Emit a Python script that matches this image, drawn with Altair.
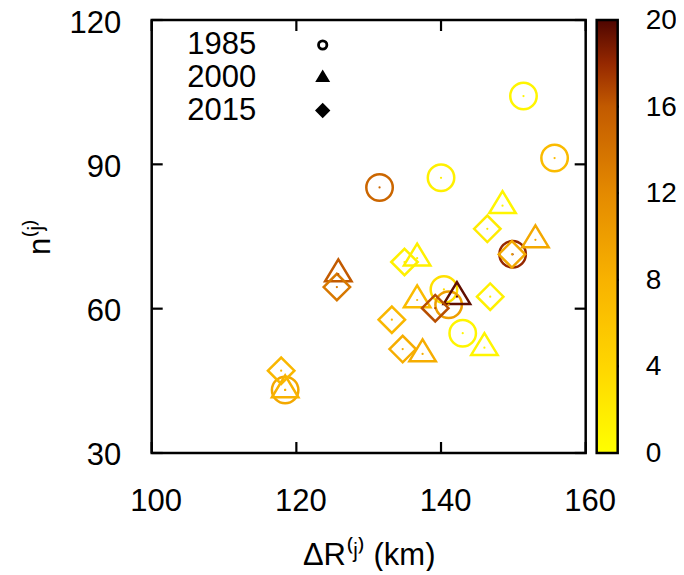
import altair as alt
import pandas as pd

# ---------------- data ----------------
years = ["1985", "2000", "2015"]

dr_1985 = [151.4, 155.7, 140.0, 131.5, 149.9, 140.4, 141.05, 143.0, 118.45]
n_1985 = [104.2, 91.3, 87.2, 85.2, 71.3, 64.0, 60.8, 54.9, 43.1]
c_1985 = [1.0, 7.0, 1.5, 15.0, 18.0, 3.0, 10.0, 1.0, 9.0]

dr_2000 = [148.5, 153.05, 136.7, 125.8, 136.7, 142.2, 137.45, 146.0, 118.45]
n_2000 = [81.4, 74.3, 70.5, 67.2, 61.8, 62.5, 50.6, 51.9, 43.1]
c_2000 = [1.0, 9.0, 1.5, 16.0, 7.0, 19.5, 8.5, 1.0, 8.0]

dr_2015 = [146.4, 149.8, 134.95, 125.6, 146.8, 139.2, 133.2, 134.7, 117.9]
n_2015 = [76.6, 71.3, 69.7, 64.5, 62.5, 60.1, 57.7, 51.6, 47.1]
c_2015 = [2.0, 9.0, 1.5, 13.5, 1.5, 16.5, 7.5, 8.5, 7.5]

x_ticks = [100, 120, 140, 160]
y_ticks = [30, 60, 90, 120]
cb_labels = [0, 4, 8, 12, 16, 20]
cb_inner_ticks = [4, 8, 12, 16]

pal_domain = [0, 4, 8, 12, 16, 18, 20]
pal_colors = ["#FFFF00", "#FFD600", "#F8B200", "#E48A00", "#C25A00", "#952800", "#4E0500"]

# ---------------- tables ----------------
rows = []
for yr, xs_, ns_, cs_ in [("1985", dr_1985, n_1985, c_1985),
                          ("2000", dr_2000, n_2000, c_2000),
                          ("2015", dr_2015, n_2015, c_2015)]:
    for a, b, c in zip(xs_, ns_, cs_):
        rows.append({"year": yr, "dr": a, "n": b, "c": c})
df = pd.DataFrame(rows)
df["order"] = range(len(df))

df_xt = pd.DataFrame({"v": x_ticks})
df_yt = pd.DataFrame({"v": y_ticks})
df_cb = pd.DataFrame({"v": cb_inner_ticks})
df_cbl = pd.DataFrame({"v": cb_labels})
df_leg = pd.DataFrame({"year": years})

W, H = 434, 433
FONT = "Liberation Sans"
FS = 31

tri_path = "M0,-1.1L1,0.55L-1,0.55Z"
shape_scale = alt.Scale(domain=years, range=["circle", tri_path, "diamond"])

xs = alt.Scale(domain=[100, 160], nice=False, zero=False)
ys = alt.Scale(domain=[30, 120], nice=False, zero=False)


def cscale():
    return alt.Scale(domain=pal_domain, range=pal_colors, interpolate="rgb")


def cbscale():
    return alt.Scale(domain=[0, 20], nice=False, zero=False)


x_axis = alt.Axis(values=x_ticks, ticks=False, tickSize=0, domain=False, grid=False,
                  labelFontSize=FS, labelFont=FONT, labelColor="black",
                  labelPadding=34, labelOffset=4, labelFlush=False, labelOverlap=False,
                  title="ΔR⁽ʲ⁾ (km)", titleFont=FONT, titleFontSize=FS,
                  titleFontWeight="normal", titleColor="black",
                  titleBaseline="alphabetic", titleX=W / 2, titleY=111.7)
y_axis = alt.Axis(values=y_ticks, ticks=False, tickSize=0, domain=False, grid=False,
                  labelFontSize=FS, labelFont=FONT, labelColor="black",
                  labelPadding=31, labelOffset=3, labelFlush=False, labelOverlap=False,
                  title="n⁽ʲ⁾", titleFont=FONT, titleFontSize=FS,
                  titleFontWeight="normal", titleColor="black",
                  titleAngle=270, titleBaseline="alphabetic", titleAlign="center",
                  titleX=-101.7, titleY=H / 2)

color_legend = alt.Legend(type="gradient", orient="none", legendX=445, legendY=0,
                          direction="vertical",
                          gradientLength=H, gradientThickness=21,
                          gradientStrokeColor="black", gradientStrokeWidth=2.5,
                          values=cb_labels, labelFontSize=10, labelOpacity=0,
                          labelOverlap=False, padding=0, title=None)

pts = alt.Chart(df).mark_point(filled=False, strokeWidth=2.5, size=700, opacity=1).encode(
    x=alt.X("dr:Q", scale=xs, axis=x_axis),
    y=alt.Y("n:Q", scale=ys, axis=y_axis),
    shape=alt.Shape("year:N", scale=shape_scale, legend=None),
    stroke=alt.Stroke("c:Q", scale=cscale(), legend=color_legend),
    order="order:Q",
)

dots = alt.Chart(df).mark_circle(size=5, opacity=1).encode(
    x=alt.X("dr:Q", scale=xs, axis=x_axis),
    y=alt.Y("n:Q", scale=ys, axis=None),
    fill=alt.Fill("c:Q", scale=cscale(), legend=None),
)

tick_style = dict(color="black", strokeWidth=2.2)
xt_bot = alt.Chart(df_xt).mark_rule(**tick_style).encode(
    x=alt.X("v:Q", scale=xs, axis=x_axis), y=alt.value(H), y2=alt.value(H - 11))
xt_top = alt.Chart(df_xt).mark_rule(**tick_style).encode(
    x=alt.X("v:Q", scale=xs, axis=x_axis), y=alt.value(0), y2=alt.value(11))
yt_left = alt.Chart(df_yt).mark_rule(**tick_style).encode(
    y=alt.Y("v:Q", scale=ys, axis=None), x=alt.value(0), x2=alt.value(11))
yt_right = alt.Chart(df_yt).mark_rule(**tick_style).encode(
    y=alt.Y("v:Q", scale=ys, axis=None), x=alt.value(W), x2=alt.value(W - 11))

cb_ticks = alt.Chart(df_cb).mark_rule(color="black", strokeWidth=2.2, strokeDash=[8, 6]).encode(
    y=alt.Y("v:Q", scale=cbscale(), axis=None),
    x=alt.value(445.3), x2=alt.value(467.3))

cb_text = alt.Chart(df_cbl).mark_text(align="left", baseline="middle", font=FONT,
                                      fontSize=28, color="black", dy=1).encode(
    y=alt.Y("v:Q", scale=cbscale(), axis=None),
    x=alt.value(494),
    text=alt.Text("v:Q", format="d"))

leg_y = alt.Y("year:N", scale=alt.Scale(domain=years, range=[25, 90.5], padding=0), axis=None)
leg_text = alt.Chart(df_leg).mark_text(align="left", baseline="middle", font=FONT,
                                       fontSize=FS, color="black").encode(
    x=alt.value(35.5), y=leg_y, text="year:N")
leg_sym = alt.Chart(df_leg).mark_point(filled=True, opacity=1, stroke="black",
                                       strokeWidth=2.8).encode(
    x=alt.value(171), y=leg_y,
    shape=alt.Shape("year:N", scale=shape_scale, legend=None),
    fill=alt.Fill("year:N", scale=alt.Scale(domain=years, range=["white", "black", "black"]),
                  legend=None),
    size=alt.Size("year:O", scale=alt.Scale(domain=years, range=[70, 130, 95]), legend=None),
)

chart = alt.layer(pts, dots, xt_bot, xt_top, yt_left, yt_right, cb_ticks, cb_text,
                  leg_text, leg_sym).resolve_scale(
    y="independent", size="independent", fill="independent"
).properties(
    width=W, height=H,
    autosize=alt.AutoSizeParams(type="none"),
    padding={"left": 143.7, "top": 12, "right": 90, "bottom": 118},
).configure(background="white").configure_view(stroke="black", strokeWidth=2.5)

chart.save("out.html", embed_options={"renderer": "svg", "actions": False})
